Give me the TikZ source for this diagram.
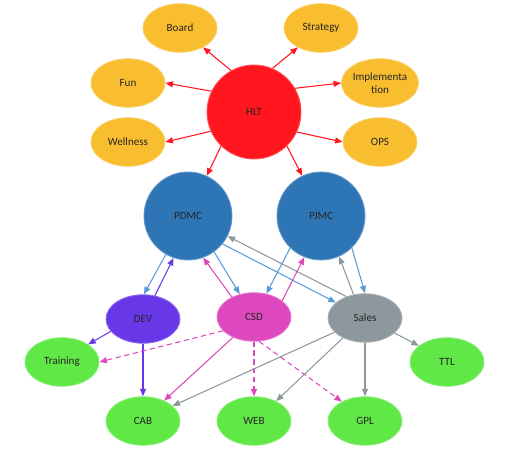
\documentclass[tikz,border=0pt]{standalone}
\usepackage{fontspec}
\setmainfont{Carlito}
\usetikzlibrary{arrows.meta,shapes.geometric}
\definecolor{orgOrange}{RGB}{249,190,47}
\definecolor{orgRed}{RGB}{255,22,30}
\definecolor{orgBlue}{RGB}{46,117,182}
\definecolor{orgLightBlue}{RGB}{91,155,213}
\definecolor{orgPurple}{RGB}{104,56,232}
\definecolor{orgMagenta}{RGB}{222,72,190}
\definecolor{orgGray}{RGB}{140,152,157}
\definecolor{orgGreen}{RGB}{95,232,70}

\begin{document}
\begin{tikzpicture}[
  x=0.02cm, y=-0.02cm,
  oval/.style={ellipse, draw=#1!75!white, fill=#1, line width=0.5pt,
               minimum width=1.48cm, minimum height=0.97cm, inner sep=0pt,
               align=center, font=\fontsize{6.3}{7.4}\selectfont, text=black!85},
  ball/.style={circle, draw=#1!75!white, fill=#1, line width=0.5pt,
               minimum size=1.76cm, inner sep=0pt,
               font=\fontsize{6.3}{7.4}\selectfont, text=black!85},
  arrow/.style={-{Triangle[length=1.5mm,width=1.2mm]}, line width=0.6pt, draw=#1},
  dasharrow/.style={arrow=#1, dash pattern=on 3pt off 2pt}
]
\useasboundingbox (0,0) rectangle (512,449);

% top level
\node[ball=orgRed, minimum size=1.88cm] (hlt) at (254,112) {HLT};
\node[oval=orgOrange] (board) at (180,28) {Board};
\node[oval=orgOrange] (strategy) at (321,28) {Strategy};
\node[oval=orgOrange] (fun) at (128,83) {Fun};
\node[oval=orgOrange] (impl) at (380,83) {Implementa\\tion};
\node[oval=orgOrange] (wellness) at (128,142) {Wellness};
\node[oval=orgOrange] (ops) at (380,142) {OPS};

% management
\node[ball=orgBlue] (pdmc) at (188,216) {PDMC};
\node[ball=orgBlue] (pjmc) at (321,216) {PJMC};

% departments
\node[oval=orgPurple] (dev) at (143,319) {DEV};
\node[oval=orgMagenta] (csd) at (254,317) {CSD};
\node[oval=orgGray] (sales) at (365,318) {Sales};

% outputs
\node[oval=orgGreen] (training) at (62,362) {Training};
\node[oval=orgGreen] (ttl) at (447,362) {TTL};
\node[oval=orgGreen] (cab) at (143,421) {CAB};
\node[oval=orgGreen] (web) at (254,421) {WEB};
\node[oval=orgGreen] (gpl) at (365,421) {GPL};

% HLT links
\draw[arrow=orgRed] (hlt.119) -- (board.320);
\draw[arrow=orgRed] (hlt.67) -- (strategy.220);
\draw[arrow=orgRed] (hlt.154) -- (fun.east);
\draw[arrow=orgRed] (hlt.30) -- (impl.west);
\draw[arrow=orgRed] (hlt.204) -- (wellness.east);
\draw[arrow=orgRed] (hlt.335) -- (ops.west);
\draw[arrow=orgRed] (hlt.226) -- (pdmc.65);
\draw[arrow=orgRed] (hlt.314) -- (pjmc.115);

% management <-> departments
\draw[arrow=orgLightBlue] (pdmc.240) -- (dev.88);
\draw[arrow=orgPurple] (dev.63) -- (pdmc.251);
\draw[arrow=orgLightBlue] (pdmc.306) -- (csd.122);
\draw[arrow=orgMagenta] (csd.138) -- (pdmc.290);
\draw[arrow=orgLightBlue] (pdmc.321) -- (sales.152);
\draw[arrow=orgGray] (sales.131) -- (pdmc.333);
\draw[arrow=orgLightBlue] (pjmc.226) -- (csd.62);
\draw[arrow=orgMagenta] (csd.30) -- (pjmc.248);
\draw[arrow=orgGray] (sales.116) -- (pjmc.294);
\draw[arrow=orgLightBlue] (pjmc.314) -- (sales.90);

% departments -> outputs
\draw[arrow=orgPurple] (dev.201) -- (training.34);
\draw[arrow=orgPurple] (dev.south) -- (cab.north);
\draw[dasharrow=orgMagenta] (csd.204) -- (training.east);
\draw[arrow=orgMagenta] (csd.224) -- (cab.44);
\draw[dasharrow=orgMagenta] (csd.south) -- (web.north);
\draw[dasharrow=orgMagenta] (csd.282) -- (gpl.140);
\draw[arrow=orgGray] (sales.205) -- (cab.27);
\draw[arrow=orgGray] (sales.222) -- (web.42);
\draw[arrow=orgGray] (sales.south) -- (gpl.north);
\draw[arrow=orgGray] (sales.333) -- (ttl.150);
\end{tikzpicture}
\end{document}
